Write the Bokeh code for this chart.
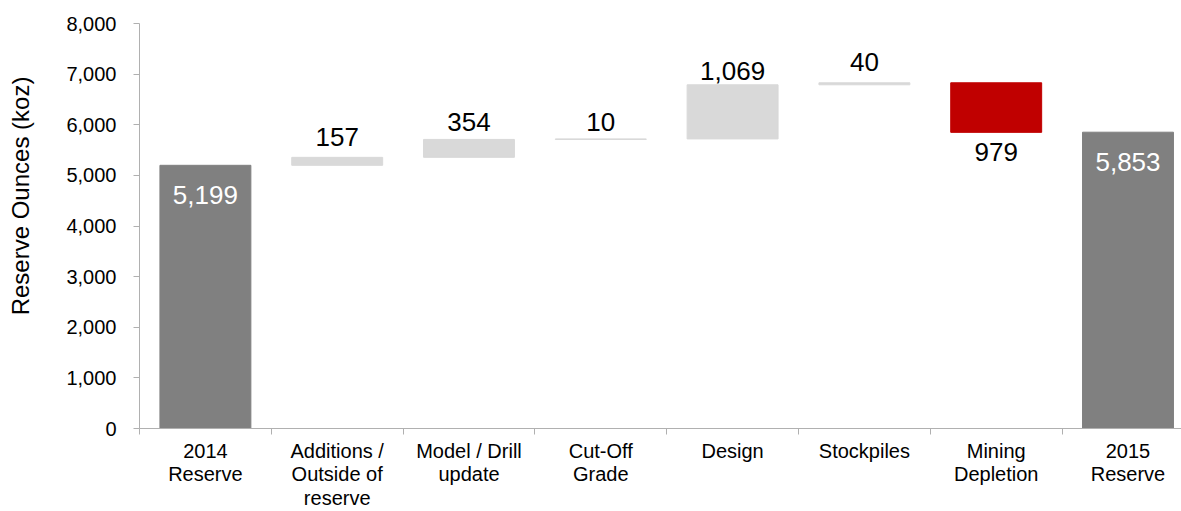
from bokeh.plotting import figure
from bokeh.models import ColumnDataSource, FixedTicker, NumeralTickFormatter, Range1d
from bokeh.embed import file_html
from bokeh.resources import INLINE
from bokeh.core.properties import value

# ---- data ----
categories = ["2014\nReserve", "Additions /\nOutside of\nreserve", "Model / Drill\nupdate",
              "Cut-Off\nGrade", "Design", "Stockpiles", "Mining\nDepletion", "2015\nReserve"]
values = [5199, 157, 354, 10, 1069, 40, -979, 5853]
kinds = ["total", "up", "up", "up", "up", "up", "down", "total"]
labels = ["5,199", "157", "354", "10", "1,069", "40", "979", "5,853"]
y_title = "Reserve Ounces (koz)"

# ---- styles ----
colors = {"total": "#808080", "up": "#d9d9d9", "down": "#c00000"}
label_offsets = [30, -20, -17, -17, -14, -21, 20, 30]  # px, positive = downward
FONT = "Liberation Sans"
AXIS_GRAY = "#b0b0b0"

xs, bottoms, tops, fills = [], [], [], []
run = 0
for i, (v, k) in enumerate(zip(values, kinds)):
    if k == "total":
        b, t = 0, v
        run = v
    else:
        b, t = run, run + v
        run = run + v
    xs.append(i)
    bottoms.append(min(b, t))
    tops.append(max(b, t))
    fills.append(colors[k])

src = ColumnDataSource(dict(x=xs, bottom=bottoms, top=tops, color=fills))

p = figure(width=1181, height=511, output_backend="svg", toolbar_location=None,
           x_range=Range1d(-0.5, 7.406), y_range=Range1d(0, 8000),
           min_border_left=139, min_border_right=0, min_border_top=23, min_border_bottom=82)
p.outline_line_color = None
p.grid.grid_line_color = None
p.background_fill_color = "white"

p.vbar(x="x", bottom="bottom", top="top", width=0.69, color="color", source=src)

# value labels
lab_y, lab_c = [], []
for i, k in enumerate(kinds):
    if k == "total":
        lab_y.append(tops[i]); lab_c.append("white")
    elif k == "up":
        lab_y.append(tops[i]); lab_c.append("#000000")
    else:
        lab_y.append(bottoms[i]); lab_c.append("#000000")
lsrc = ColumnDataSource(dict(x=xs, y=lab_y, text=labels, color=lab_c, off=label_offsets))
p.text(x="x", y="y", text="text", text_color="color", y_offset="off", source=lsrc,
       text_align="center", text_baseline="middle", text_font=value(FONT), text_font_size="26px")

# y axis
ya = p.yaxis[0]
ya.ticker = FixedTicker(ticks=list(range(0, 8001, 1000)))
ya.formatter = NumeralTickFormatter(format="0,0")
# leading no-break spaces lift the title a little above the frame's centre, as in the original
ya.axis_label = "\u00a0" * 9 + y_title
ya.axis_label_text_font = FONT
ya.axis_label_text_font_size = "24px"
ya.axis_label_text_font_style = "normal"
ya.axis_label_text_color = "#000000"
ya.axis_label_standoff = 29
ya.major_label_text_font = FONT
ya.major_label_text_font_size = "20px"
ya.major_label_text_color = "#000000"
ya.major_label_standoff = 17
ya.major_tick_out = 6
ya.major_tick_in = 0
ya.minor_tick_line_color = None
ya.axis_line_color = AXIS_GRAY
ya.major_tick_line_color = AXIS_GRAY

# x axis
xa = p.xaxis[0]
xa.ticker = FixedTicker(ticks=list(range(len(categories))),
                        minor_ticks=[i - 0.5 for i in range(len(categories) + 1)])
xa.major_label_overrides = {i: c for i, c in enumerate(categories)}
xa.major_label_text_font = FONT
xa.major_label_text_font_size = "20px"
xa.major_label_text_color = "#000000"
xa.major_label_text_line_height = 1.07
xa.major_label_standoff = 5
xa.major_tick_line_color = None
xa.major_tick_out = 0
xa.major_tick_in = 0
xa.minor_tick_out = 6
xa.minor_tick_in = 0
xa.minor_tick_line_color = AXIS_GRAY
xa.axis_line_color = AXIS_GRAY

open("out.html", "w").write(file_html(p, INLINE))
